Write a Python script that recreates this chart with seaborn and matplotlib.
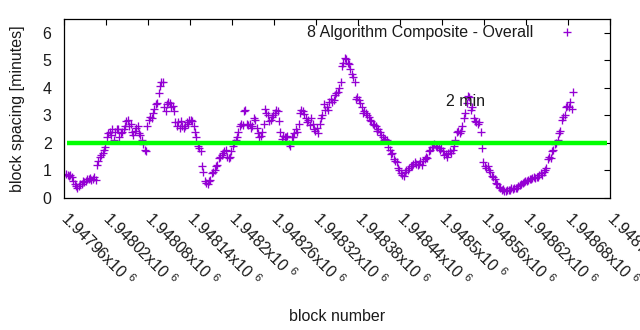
import matplotlib
matplotlib.use("Agg")
import matplotlib.pyplot as plt
from matplotlib.lines import Line2D
import seaborn as sns
import pandas as pd
import numpy as np

# ---------------- data ----------------
first_block = 1947963
block_step = 2
spacing_minutes = [
    0.88, 0.85, 0.80, 0.82, 0.77,  0.60, 0.50, 0.45, 0.38, 0.45,
    0.50, 0.52, 0.60, 0.58, 0.62,  0.68, 0.70, 0.72, 0.65, 0.68,
    0.75, 0.65, 1.20, 1.35, 1.50,  1.55, 1.62, 1.75, 1.85, 2.20,
    2.35, 2.40, 2.30, 2.50, 2.10,  2.40, 2.50, 2.50, 2.20, 2.35,
    2.40, 2.50, 2.60, 2.80, 2.85,  2.60, 2.70, 2.40, 2.30, 2.45,
    2.55, 2.60, 2.35, 2.30, 2.10,  1.95, 1.75, 1.70, 2.60, 2.85,
    2.95, 2.90, 3.10, 3.25, 3.40,  3.45, 3.80, 4.05, 4.20, 4.20,
    3.30, 3.15, 3.40, 3.50, 3.45,  3.30, 3.35, 3.15, 2.75, 2.60,
    2.75, 2.55, 2.80, 2.60, 2.55,  2.60, 2.75, 2.70, 2.85, 2.85,
    2.80, 2.60, 2.40, 2.20, 1.90,  1.80, 1.70, 1.15, 0.95, 0.60,
    0.55, 0.50, 0.60, 0.65, 0.90,  0.95, 1.00, 1.15, 1.20, 1.45,
    1.50, 1.55, 1.65, 1.70, 1.75,  1.50, 1.45, 1.50, 1.70, 1.90,
    2.00, 2.10, 2.20, 2.40, 2.60,  2.70, 2.65, 3.15, 3.20, 2.70,
    2.65, 2.70, 2.55, 2.60, 2.90,  2.85, 2.55, 2.35, 2.20, 2.25,
    2.40, 2.70, 3.25, 3.10, 3.00,  2.80, 2.85, 2.95, 3.00, 3.10,
    3.20, 3.15, 2.80, 2.40, 2.15,  2.25, 2.20, 2.20, 2.25, 1.95,
    1.90, 2.20, 2.20, 2.35, 2.50,  2.40, 2.70, 3.10, 3.20, 3.15,
    3.05, 2.90, 2.75, 2.85, 2.65,  2.90, 2.70, 2.50, 2.45, 2.55,
    2.35, 2.70, 2.90, 3.00, 3.40,  3.20, 3.30, 3.20, 3.50, 3.60,
    3.50, 3.55, 3.75, 3.80, 3.85,  4.00, 4.20, 4.80, 4.90, 5.10,
    5.05, 4.90, 4.85, 4.70, 4.50,  4.40, 4.20, 3.60, 3.65, 3.55,
    3.45, 3.30, 3.10, 3.15, 3.10,  3.00, 2.95, 2.85, 2.80, 2.70,
    2.65, 2.60, 2.45, 2.50, 2.40,  2.30, 2.20, 2.10, 2.15, 2.10,
    1.85, 1.75, 1.60, 1.65, 1.40,  1.35, 1.30, 1.10, 1.00, 0.90,
    0.85, 0.80, 0.95, 1.00, 1.00,  1.10, 1.15, 1.15, 1.25, 1.30,
    1.25, 1.20, 1.25, 1.35, 1.20,  1.35, 1.40, 1.50, 1.45, 1.70,
    1.75, 1.85, 1.85, 1.95, 1.90,  1.85, 1.80, 1.75, 1.80, 1.70,
    1.55, 1.60, 1.50, 1.65, 1.70,  1.65, 1.75, 1.90, 2.10, 2.40,
    2.45, 2.35, 2.45, 2.60, 2.90,  3.10, 3.45, 3.70, 3.65, 3.20,
    3.30, 2.90, 2.80, 2.75, 2.70,  2.75, 2.40, 1.80, 1.30, 1.15,
    1.10, 1.15, 1.00, 0.95, 0.80,  0.75, 0.70, 0.55, 0.50, 0.40,
    0.35, 0.30, 0.32, 0.27, 0.25,  0.30, 0.28, 0.30, 0.35, 0.33,
    0.38, 0.35, 0.38, 0.42, 0.48,  0.50, 0.55, 0.58, 0.60, 0.60,
    0.65, 0.68, 0.70, 0.72, 0.75,  0.72, 0.78, 0.78, 0.85, 0.90,
    0.85, 0.95, 1.00, 1.10, 1.40,  1.50, 1.45, 1.70, 1.75, 1.95,
    2.00, 2.10, 2.35, 2.45, 2.85,  2.95, 3.00, 3.30, 3.35, 3.30,
    3.50, 3.25, 3.85,
]
target_minutes = 2
tick_blocks = [1947960, 1948020, 1948080, 1948140, 1948200, 1948260, 1948320,
               1948380, 1948440, 1948500, 1948560, 1948620, 1948680, 1948740]
tick_mantissas = ["1.94796", "1.94802", "1.94808", "1.94814", "1.9482",
                  "1.94826", "1.94832", "1.94838", "1.94844", "1.9485",
                  "1.94856", "1.94862", "1.94868", "1.94874"]
y_ticks = [0, 1, 2, 3, 4, 5, 6]
series_label = "8 Algorithm Composite - Overall"
target_label = "2 min"
target_label_pos = (1948534, 3.5)

# ---------------- style ----------------
sns.set_theme(style="white")
plt.rcParams["font.family"] = ["Liberation Sans", "DejaVu Sans"]
plt.rcParams["mathtext.fontset"] = "custom"
plt.rcParams["mathtext.rm"] = "Liberation Sans"
plt.rcParams["mathtext.default"] = "regular"

FS = 11.5
PURPLE = "#9400d3"
TXT = "#1a1a1a"

fig = plt.figure(figsize=(6.4, 3.3), dpi=100)
ax = fig.add_axes([64 / 640, 1 - 198 / 330, 546 / 640, 179 / 330])

blocks = first_block + block_step * np.arange(len(spacing_minutes))
df = pd.DataFrame({"block": blocks, "spacing": spacing_minutes})

sns.scatterplot(data=df, x="block", y="spacing", marker="+", color=PURPLE,
                s=32, linewidth=0.95, ax=ax, zorder=2, legend=False)
ax.axhline(target_minutes, xmin=0.005, xmax=0.995, color="#00ff00", lw=3.2,
           zorder=3, solid_capstyle="butt")
ax.text(target_label_pos[0], target_label_pos[1], target_label, ha="center",
        va="center", fontsize=FS, color=TXT, zorder=4)

ax.set_xlim(tick_blocks[0], tick_blocks[-1])
ax.set_ylim(0, 6.5)
ax.set_xticks(tick_blocks)
ax.set_xticklabels([m + "x10 $^{6}$" for m in tick_mantissas], rotation=-45,
                   ha="left", va="center", rotation_mode="anchor")
ax.set_yticks(y_ticks)
ax.tick_params(axis="both", direction="in", length=4.5, width=0.8,
               top=True, right=True, labelsize=FS, colors="black",
               labelcolor=TXT)
ax.tick_params(axis="x", pad=12)
ax.tick_params(axis="y", pad=9)
for sp in ax.spines.values():
    sp.set_color("black")
    sp.set_linewidth(0.9)

ax.set_xlabel("block number", fontsize=FS, color=TXT)
ax.set_ylabel("block spacing [minutes]", fontsize=FS, color=TXT)
ax.xaxis.set_label_coords(0.5, -0.62)
ax.yaxis.set_label_coords(-0.072, 0.5)

handle = Line2D([], [], ls="", marker="+", color=PURPLE, markersize=6,
                markeredgewidth=0.95)
leg = ax.legend(handles=[handle], labels=[series_label], loc="upper right",
                bbox_to_anchor=(0.965, 0.965), frameon=False,
                markerfirst=False, fontsize=FS, handlelength=3.0,
                handletextpad=0.6, borderpad=0, borderaxespad=0)
for t in leg.get_texts():
    t.set_color(TXT)

fig.savefig("out.png", dpi=100)
